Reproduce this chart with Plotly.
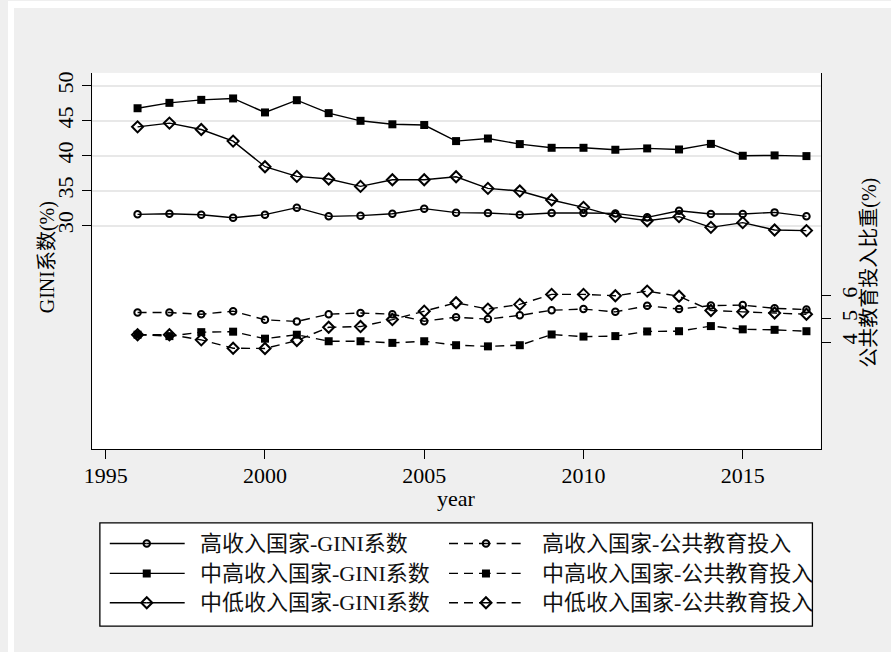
import plotly.graph_objects as go

# ---- data ---------------------------------------------------------------
years = list(range(1996, 2018))

gini_high = [31.62, 31.71, 31.57, 31.14, 31.57, 32.57, 31.33, 31.43, 31.71, 32.43, 31.86,
             31.81, 31.57, 31.81, 31.81, 31.75, 31.19, 32.14, 31.67, 31.67, 31.90, 31.33]
gini_upper_mid = [46.80, 47.57, 48.00, 48.20, 46.20, 47.95, 46.10, 45.00, 44.50, 44.40, 42.10,
                  42.47, 41.67, 41.14, 41.14, 40.86, 41.05, 40.90, 41.70, 40.00, 40.05, 39.95]
gini_lower_mid = [44.14, 44.67, 43.76, 42.10, 38.43, 37.05, 36.67, 35.62, 36.57, 36.57, 37.00,
                  35.33, 34.95, 33.67, 32.62, 31.33, 30.71, 31.29, 29.76, 30.43, 29.38, 29.29]

edu_high = [5.27, 5.27, 5.20, 5.33, 4.96, 4.89, 5.20, 5.25, 5.20, 4.90, 5.07,
            4.99, 5.15, 5.37, 5.42, 5.30, 5.56, 5.42, 5.57, 5.59, 5.45, 5.40]
edu_upper_mid = [4.32, 4.26, 4.43, 4.45, 4.15, 4.32, 4.04, 4.04, 3.97, 4.04, 3.87,
                 3.82, 3.87, 4.33, 4.24, 4.26, 4.46, 4.47, 4.69, 4.55, 4.53, 4.47]
edu_lower_mid = [4.32, 4.32, 4.10, 3.74, 3.73, 4.07, 4.64, 4.67, 4.97, 5.33, 5.69,
                 5.42, 5.62, 6.05, 6.05, 5.99, 6.19, 5.97, 5.36, 5.30, 5.25, 5.20]

x_ticks = [1995, 2000, 2005, 2010, 2015]
gini_ticks = [30, 35, 40, 45, 50]
edu_ticks = [4, 5, 6]

names = ["高收入国家-GINI系数", "中高收入国家-GINI系数", "中低收入国家-GINI系数",
         "高收入国家-公共教育投入", "中高收入国家-公共教育投入", "中低收入国家-公共教育投入"]

# ---- styling ------------------------------------------------------------
W, H = 891, 652
FONT = "Liberation Serif, Noto Sans CJK SC, serif"
BG = "#efefef"
DASH = "9px,6px"

def fx(px):
    return px / W

def fy(py):
    return 1 - py / H

# plot region in pixels
PL, PR, PT, PB = 85, 820, 72, 449

markers = [
    dict(symbol="circle-open", size=6.5, line=dict(width=2, color="black"), color="black"),
    dict(symbol="square", size=8, color="black", line=dict(width=0)),
    dict(symbol="diamond-open", size=8.5, line=dict(width=2, color="black"), color="black"),
]

series = [
    (gini_high, "y", "solid", 0),
    (gini_upper_mid, "y", "solid", 1),
    (gini_lower_mid, "y", "solid", 2),
    (edu_high, "y2", DASH, 0),
    (edu_upper_mid, "y2", DASH, 1),
    (edu_lower_mid, "y2", DASH, 2),
]

fig = go.Figure()
for (vals, yax, dash, mk), name in zip(series, names):
    fig.add_trace(go.Scatter(
        x=years, y=vals, name=name, xaxis="x", yaxis=yax,
        mode="lines+markers",
        line=dict(color="black", width=1.4, dash=dash),
        marker=markers[mk], showlegend=False, cliponaxis=False,
    ))

# ---- legend box (keys drawn on their own pixel-scaled axes) -------------
LX0, LX1, LY0, LY1 = 92.7, 811.7, 522.7, 626.0
rows_y = [543.3, 573.3, 602.7]
key_cols = [(102.7, 140.0, 178.3, 191.7, "solid"), (445.0, 482.3, 517.3, 536.7, DASH)]

annotations = []
for i, name in enumerate(names):
    col, row = divmod(i, 3)
    kx0, km, kx1, tx, dash = key_cols[col]
    ky = rows_y[row]
    for a, b in ((kx0, km), (kx1, km)):
        fig.add_trace(go.Scatter(
            x=[a, b], y=[ky, ky], xaxis="x3", yaxis="y3", mode="lines",
            line=dict(color="black", width=1.4, dash=dash),
            showlegend=False, hoverinfo="skip",
        ))
    fig.add_trace(go.Scatter(
        x=[km], y=[ky], xaxis="x3", yaxis="y3", mode="markers",
        marker=markers[row], showlegend=False, hoverinfo="skip",
    ))
    annotations.append(dict(
        x=fx(tx), y=fy(ky), xref="paper", yref="paper", text=name,
        showarrow=False, xanchor="left", yanchor="middle",
        font=dict(family=FONT, size=22, color="#111111"),
    ))

# axis titles
annotations += [
    dict(x=fx((PL + PR) / 2), y=fy(498), xref="paper", yref="paper", text="year",
         showarrow=False, xanchor="center", yanchor="middle",
         font=dict(family=FONT, size=22, color="black")),
    dict(x=fx(40), y=fy(257), xref="paper", yref="paper", text="GINI系数(%)",
         showarrow=False, xanchor="center", yanchor="middle", textangle=-90,
         font=dict(family=FONT, size=20, color="black")),
    dict(x=fx(869), y=fy(272), xref="paper", yref="paper", text="公共教育投入比重(%)",
         showarrow=False, xanchor="center", yanchor="middle", textangle=-90,
         font=dict(family=FONT, size=20, color="black")),
]

shapes = [
    dict(type="rect", xref="paper", yref="paper", layer="below",
         x0=fx(LX0), x1=fx(LX1), y0=fy(LY1), y1=fy(LY0),
         fillcolor="white", line=dict(color="black", width=1.3)),
    dict(type="rect", xref="paper", yref="paper", layer="above",
         x0=0, x1=fx(6), y0=0, y1=1, fillcolor="white", line=dict(width=0)),
    dict(type="rect", xref="paper", yref="paper", layer="above",
         x0=0, x1=1, y0=fy(7), y1=1, fillcolor="white", line=dict(width=0)),
]

# axis ranges derived from the pixel frame
x_per_year = 32.14
x1995 = 98.6
x_range = [1995 - (x1995 - PL) / x_per_year, 1995 + (PR - x1995) / x_per_year]
g_px = 7.0     # px per GINI unit, 30 at y=225
g_range = [30 - (PB - 225) / g_px, 30 + (225 - PT) / g_px]
e_px = 23.35   # px per edu unit, 4 at y=341.7
e_range = [4 - (PB - 341.7) / e_px, 4 + (341.7 - PT) / e_px]

tickfont = dict(family=FONT, size=22, color="black")
axis_common = dict(showline=True, linecolor="black", linewidth=1.3, ticks="outside",
                   ticklen=9, tickwidth=1.3, tickcolor="black", zeroline=False,
                   tickfont=tickfont)

fig.update_layout(
    width=W, height=H,
    margin=dict(l=0, r=0, t=0, b=0),
    paper_bgcolor=BG, plot_bgcolor="white",
    xaxis=dict(domain=[fx(PL), fx(PR)], range=x_range, tickvals=x_ticks,
               showgrid=False, anchor="y", ticklabelstandoff=-3, **axis_common),
    yaxis=dict(domain=[fy(PB), fy(PT)], range=g_range, tickvals=gini_ticks,
               tickangle=-90, showgrid=True, gridcolor="#e8e8e8", gridwidth=2,
               anchor="x", **axis_common),
    yaxis2=dict(overlaying="y", side="right", anchor="x", range=e_range,
                tickvals=edu_ticks, tickangle=-90, showgrid=False, **axis_common),
    xaxis3=dict(domain=[fx(LX0), fx(LX1)], range=[LX0, LX1], visible=False,
                anchor="y3", fixedrange=True),
    yaxis3=dict(domain=[fy(LY1), fy(LY0)], range=[LY1, LY0], visible=False,
                anchor="x3", fixedrange=True),
    annotations=annotations,
    shapes=shapes,
    showlegend=False,
)

fig.write_html("out.html")
